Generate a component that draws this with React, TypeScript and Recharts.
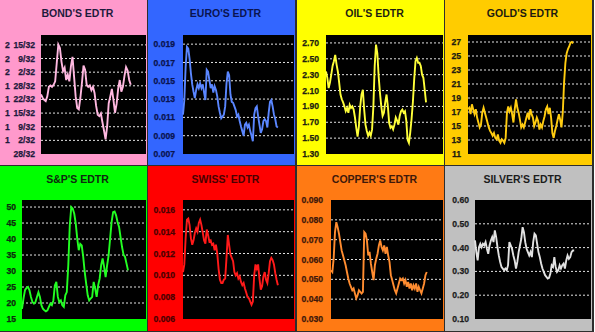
import React from 'react';
import { LineChart, Line, XAxis, YAxis, CartesianGrid } from 'recharts';

// values, left to right
const bondValues = [1.75, 1.7, 1.67, 1.65, 1.72, 1.86, 1.88, 1.86, 1.89, 1.94, 2.21, 2.48, 2.43, 2.23, 2.09, 2.14, 1.96, 2.04, 1.94, 2.16, 2.3, 2.01, 1.72, 1.55, 1.53, 1.7, 1.92, 2.17, 2.11, 1.89, 1.86, 1.88, 1.81, 1.86, 1.77, 1.58, 1.45, 1.43, 1.47, 1.34, 1.22, 1.09, 1.28, 1.62, 1.72, 1.83, 1.67, 1.48, 1.61, 1.83, 1.96, 1.79, 1.86, 2.02, 2.15, 2.1, 1.96, 1.89];
const euroValues = [0.0113, 0.0129, 0.0165, 0.0187, 0.0185, 0.0174, 0.0158, 0.0146, 0.0138, 0.0131, 0.014, 0.0146, 0.0142, 0.0147, 0.0142, 0.0146, 0.0137, 0.0129, 0.0162, 0.016, 0.0151, 0.0142, 0.0146, 0.0137, 0.0144, 0.014, 0.0133, 0.0122, 0.0115, 0.0109, 0.0111, 0.0113, 0.0122, 0.0147, 0.016, 0.0156, 0.0135, 0.0127, 0.0126, 0.0122, 0.0118, 0.0111, 0.0113, 0.0106, 0.01, 0.0095, 0.009, 0.0102, 0.0104, 0.0099, 0.0102, 0.0095, 0.009, 0.0084, 0.0113, 0.012, 0.0122, 0.0111, 0.0102, 0.0093, 0.0097, 0.0106, 0.0108, 0.0106, 0.0099, 0.0115, 0.0127, 0.0129, 0.0122, 0.0113, 0.0108, 0.01, 0.0099];
const oilValues = [2.34, 2.26, 2.13, 2.2, 2.3, 2.41, 2.47, 2.55, 2.43, 2.34, 2.2, 2.05, 1.99, 1.95, 1.9, 1.84, 1.88, 1.82, 1.92, 1.88, 1.9, 1.86, 1.76, 1.63, 1.52, 1.65, 1.9, 2.05, 2.11, 1.86, 1.67, 1.59, 1.53, 1.57, 1.53, 1.61, 1.9, 2.41, 2.68, 2.57, 2.28, 2.07, 1.9, 1.78, 1.82, 1.95, 2.05, 1.9, 1.69, 1.63, 1.65, 1.61, 1.67, 1.76, 1.72, 1.67, 1.78, 1.84, 1.86, 1.82, 1.84, 1.72, 1.48, 1.44, 1.57, 1.74, 1.95, 2.24, 2.47, 2.51, 2.45, 2.45, 2.41, 2.3, 2.26, 2.11, 1.95];
const goldValues = [17.4, 17.6, 16.7, 18.1, 17.4, 16.7, 17.4, 16.2, 15.5, 14.8, 15.2, 16.9, 17.6, 16.9, 16.2, 15.5, 14.8, 14.3, 14.0, 13.6, 14.0, 13.3, 13.1, 13.8, 12.9, 12.6, 13.1, 12.9, 12.6, 13.3, 16.9, 17.8, 17.1, 17.6, 16.7, 15.5, 17.4, 18.8, 17.6, 16.9, 15.9, 14.8, 15.2, 14.8, 15.5, 16.2, 16.9, 15.9, 17.4, 16.7, 16.2, 15.0, 15.5, 16.2, 15.7, 14.5, 15.2, 14.8, 15.7, 16.4, 17.4, 17.8, 16.7, 17.6, 16.2, 14.0, 13.3, 14.3, 15.0, 15.9, 16.7, 15.9, 14.8, 16.9, 21.2, 24.0, 25.4, 26.0, 26.4, 26.9, 27.0, 26.8];
const spValues = [18.2, 21.4, 24.0, 24.7, 25.0, 24.0, 21.9, 20.3, 19.8, 20.3, 21.9, 23.4, 21.9, 19.3, 18.2, 17.7, 17.4, 17.7, 18.8, 19.8, 19.3, 20.8, 25.5, 26.6, 21.9, 20.3, 20.8, 19.3, 18.8, 22.4, 23.4, 31.8, 44.3, 50.0, 49.5, 47.9, 44.8, 40.1, 36.5, 38.5, 38.0, 34.4, 29.7, 26.0, 22.4, 20.8, 21.4, 21.9, 26.6, 24.5, 21.9, 25.5, 27.6, 31.8, 33.9, 31.3, 28.1, 31.8, 34.9, 40.1, 45.3, 48.4, 48.6, 47.4, 45.3, 43.8, 40.6, 37.5, 35.1, 34.4, 32.3, 30.2];
const swissValues = [0.0103, 0.011, 0.0134, 0.0151, 0.0152, 0.0146, 0.0134, 0.0128, 0.0132, 0.0139, 0.0143, 0.014, 0.0148, 0.0151, 0.0146, 0.0139, 0.0132, 0.0129, 0.0142, 0.0137, 0.0131, 0.0132, 0.0128, 0.0129, 0.0123, 0.0128, 0.012, 0.0106, 0.0096, 0.0093, 0.0093, 0.0096, 0.0097, 0.0116, 0.0137, 0.0128, 0.0119, 0.0116, 0.0113, 0.0103, 0.01, 0.0102, 0.0097, 0.0099, 0.0094, 0.0091, 0.0093, 0.0088, 0.0084, 0.008, 0.0079, 0.0076, 0.0073, 0.0076, 0.01, 0.011, 0.0106, 0.011, 0.0097, 0.0087, 0.009, 0.0099, 0.0103, 0.0096, 0.0093, 0.0102, 0.0113, 0.0116, 0.0114, 0.011, 0.0102, 0.0096, 0.0091];
const copperValues = [0.0546, 0.0537, 0.0604, 0.0738, 0.0788, 0.0763, 0.073, 0.0688, 0.0646, 0.0621, 0.0596, 0.0571, 0.0537, 0.0504, 0.0479, 0.0462, 0.0445, 0.0454, 0.0429, 0.0404, 0.042, 0.0445, 0.0437, 0.0429, 0.0437, 0.0738, 0.073, 0.0696, 0.0621, 0.0638, 0.0579, 0.0537, 0.0496, 0.0571, 0.0604, 0.0629, 0.0671, 0.0696, 0.0663, 0.0646, 0.0671, 0.0629, 0.0663, 0.0621, 0.0587, 0.0521, 0.0496, 0.047, 0.0445, 0.0429, 0.0454, 0.0479, 0.0504, 0.0496, 0.0504, 0.0479, 0.0496, 0.0462, 0.0487, 0.0454, 0.0479, 0.0445, 0.047, 0.0454, 0.0479, 0.0437, 0.0462, 0.0445, 0.0429, 0.0454, 0.0479, 0.0521, 0.0537];
const silverValues = [0.43, 0.381, 0.346, 0.402, 0.416, 0.402, 0.416, 0.409, 0.423, 0.395, 0.374, 0.409, 0.43, 0.444, 0.423, 0.472, 0.444, 0.402, 0.367, 0.34, 0.319, 0.312, 0.305, 0.312, 0.305, 0.326, 0.423, 0.409, 0.395, 0.367, 0.346, 0.312, 0.34, 0.381, 0.409, 0.437, 0.486, 0.465, 0.423, 0.395, 0.381, 0.367, 0.381, 0.36, 0.423, 0.458, 0.451, 0.416, 0.381, 0.36, 0.333, 0.312, 0.298, 0.284, 0.277, 0.27, 0.273, 0.291, 0.326, 0.319, 0.36, 0.319, 0.298, 0.305, 0.326, 0.312, 0.326, 0.333, 0.312, 0.346, 0.367, 0.353, 0.36, 0.381, 0.388, 0.388];

// y axis ticks
const bondTicks = [0.875, 1.075, 1.275, 1.475, 1.675, 1.875, 2.075, 2.275, 2.475];
const bondTickLabels = ['28/32', '1 2/32', '1 9/32', '1 15/32', '1 22/32', '1 28/32', '2 2/32', '2 9/32', '2 15/32'];
const euroTicks = [0.007, 0.009, 0.011, 0.013, 0.015, 0.017, 0.019];
const oilTicks = [1.3, 1.5, 1.7, 1.9, 2.1, 2.3, 2.5, 2.7];
const goldTicks = [11, 13, 15, 17, 19, 21, 23, 25, 27];
const spTicks = [15, 20, 25, 30, 35, 40, 45, 50];
const swissTicks = [0.006, 0.008, 0.01, 0.012, 0.014, 0.016];
const copperTicks = [0.03, 0.04, 0.05, 0.06, 0.07, 0.08, 0.09];
const silverTicks = [0.1, 0.2, 0.3, 0.4, 0.5, 0.6];

const titles = ["BOND'S EDTR", "EURO'S EDTR", "OIL'S EDTR", "GOLD'S EDTR", "S&P'S EDTR", "SWISS' EDTR", "COPPER'S EDTR", "SILVER'S EDTR"];

const FONT = '"Liberation Sans", Arial, sans-serif';
const PANEL_W = 147;
const PANEL_H = 165;
const PLOT_H = 119;
const colX = [0, 148, 297, 445];
const rowY = [0, 166];

interface PanelProps {
  title: string;
  values: number[];
  ticks: number[];
  labels?: string[];
  decimals: number;
  domain: [number, number];
  bg: string;
  stroke: string;
  ink: string;
  col: number;
  row: number;
  plotLeft: number;
  gap: number;
}

function Panel({ title, values, ticks, labels, decimals, domain, bg, stroke, ink, col, row, plotLeft, gap }: PanelProps) {
  const data = values.map((v, i) => ({ i, v }));
  const xMax = (values.length - 1) / 0.855;
  const grid = ticks.filter(t => t > domain[0] + 1e-9 && t < domain[1] - 1e-9);
  const top = row === 0 ? 35 : 34;

  const renderTick = (props: any) => {
    const { x, y, payload } = props;
    const idx = ticks.findIndex(t => Math.abs(t - payload.value) < 1e-9);
    const style = { fontFamily: FONT, fontSize: 8.6, fontWeight: 700, fill: ink, stroke: ink, strokeWidth: 0.25 };
    if (labels) {
      const parts = labels[idx].split(' ');
      if (parts.length === 2) {
        return (
          <g>
            <text x={x - 30} y={y} dy="0.355em" textAnchor="start" style={style}>{parts[0]}</text>
            <text x={x} y={y} dy="0.355em" textAnchor="end" style={style}>{parts[1]}</text>
          </g>
        );
      }
      return <text x={x} y={y} dy="0.355em" textAnchor="end" style={style}>{labels[idx]}</text>;
    }
    return (
      <text x={x} y={y} dy="0.355em" textAnchor="end" style={style}>
        {Number(payload.value).toFixed(decimals)}
      </text>
    );
  };

  return (
    <div
      style={{
        position: 'absolute',
        left: colX[col],
        top: rowY[row],
        width: PANEL_W,
        height: PANEL_H,
        background: bg,
        overflow: 'hidden',
      }}
    >
      <div
        style={{
          position: 'absolute',
          top: 7,
          left: 8,
          width: PANEL_W - 8,
          textAlign: 'center',
          fontFamily: FONT,
          fontWeight: 700,
          fontSize: 10.5,
          lineHeight: '12px',
          color: ink,
        }}
      >
        {title}
      </div>
      <LineChart
        width={PANEL_W}
        height={PANEL_H}
        data={data}
        margin={{ top, right: 1, bottom: PANEL_H - top - PLOT_H, left: 0 }}
      >
        <CartesianGrid
          vertical={false}
          fill="#000"
          fillOpacity={1}
          stroke="#e4e4e4"
          strokeDasharray="2 2"
          horizontalValues={grid}
        />
        <XAxis dataKey="i" type="number" domain={[0, xMax]} hide />
        <YAxis
          type="number"
          domain={domain}
          ticks={ticks}
          width={plotLeft}
          axisLine={false}
          tickLine={false}
          tickSize={0}
          tickMargin={gap}
          interval={0}
          allowDataOverflow
          tick={renderTick}
        />
        <Line
          type="linear"
          dataKey="v"
          stroke={stroke}
          strokeWidth={1.9}
          dot={false}
          isAnimationActive={false}
        />
      </LineChart>
    </div>
  );
}

export default function App() {
  return (
    <div style={{ position: 'absolute', left: 0, top: 0, width: 594, height: 332, background: '#2e2e2e' }}>
      <Panel title={titles[0]} values={bondValues} ticks={bondTicks} labels={bondTickLabels} decimals={0}
        domain={[0.875, 2.62]} bg="#ff99cc" stroke="#ffb8e0" ink="#1e1a3c" col={0} row={0} plotLeft={41} gap={6} />
      <Panel title={titles[1]} values={euroValues} ticks={euroTicks} decimals={3}
        domain={[0.007, 0.02]} bg="#3366ff" stroke="#5a86ff" ink="#0a1450" col={1} row={0} plotLeft={35} gap={8} />
      <Panel title={titles[2]} values={oilValues} ticks={oilTicks} decimals={2}
        domain={[1.3, 2.8]} bg="#ffff00" stroke="#ffff3a" ink="#1e1e10" col={2} row={0} plotLeft={29} gap={7} />
      <Panel title={titles[3]} values={goldValues} ticks={goldTicks} decimals={0}
        domain={[11, 28]} bg="#ffcc00" stroke="#ffcc10" ink="#201a10" col={3} row={0} plotLeft={23} gap={7} />
      <Panel title={titles[4]} values={spValues} ticks={spTicks} decimals={0}
        domain={[15, 52.2]} bg="#00ff00" stroke="#22ff22" ink="#0e2a0e" col={0} row={1} plotLeft={22} gap={6} />
      <Panel title={titles[5]} values={swissValues} ticks={swissTicks} decimals={3}
        domain={[0.006, 0.0169]} bg="#ff0000" stroke="#ff1a1a" ink="#4a0000" col={1} row={1} plotLeft={35} gap={8} />
      <Panel title={titles[6]} values={copperValues} ticks={copperTicks} decimals={3}
        domain={[0.03, 0.09]} bg="#ff7a14" stroke="#ff8c30" ink="#40180a" col={2} row={1} plotLeft={34} gap={8} />
      <Panel title={titles[7]} values={silverValues} ticks={silverTicks} decimals={2}
        domain={[0.1, 0.6]} bg="#c0c0c0" stroke="#e2e2e2" ink="#1c1c1c" col={3} row={1} plotLeft={30} gap={6} />
    </div>
  );
}
